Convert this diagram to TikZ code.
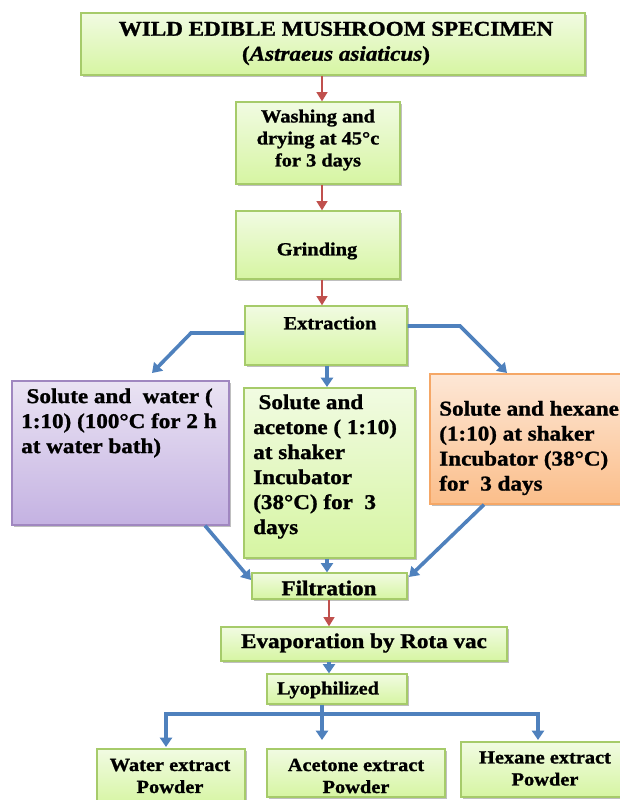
\documentclass[tikz,border=0pt]{standalone}
\usepackage{fontspec}
\setmainfont{Liberation Serif}[FakeStretch=1.1, BoldFeatures={FakeBold=1.2}, BoldItalicFeatures={FakeBold=1.2}]
\usepackage{xcolor}
\usepackage{tikz}
\usetikzlibrary{fit,shadows,arrows.meta}

\definecolor{grtop}{RGB}{241,251,226}
\definecolor{grbot}{RGB}{214,245,162}
\definecolor{grline}{RGB}{166,203,106}
\definecolor{pptop}{RGB}{234,227,243}
\definecolor{ppbot}{RGB}{196,178,226}
\definecolor{ppline}{RGB}{160,135,192}
\definecolor{ortop}{RGB}{253,231,214}
\definecolor{orbot}{RGB}{251,190,138}
\definecolor{orline}{RGB}{245,167,102}
\definecolor{redarr}{RGB}{192,80,77}
\definecolor{bluearr}{RGB}{79,129,189}

\tikzset{
  box/.style={inner sep=0pt, line width=0.9pt,
    drop shadow={shadow xshift=1.2pt, shadow yshift=-1.2pt, fill=black, opacity=0.25}},
  greenbox/.style={box, draw=grline, top color=grtop, bottom color=grbot},
  purplebox/.style={box, draw=ppline, top color=pptop, bottom color=ppbot},
  orangebox/.style={box, draw=orline, top color=ortop, bottom color=orbot},
  bigtxt/.style={inner sep=0pt, font=\fontsize{15.75pt}{18.75pt}\selectfont\bfseries},
  smalltxt/.style={inner sep=0pt, font=\fontsize{13.9pt}{16.5pt}\selectfont\bfseries},
  redline/.style={draw=redarr, line width=1.8pt, -{Triangle[length=7pt,width=8pt]}},
  blueline/.style={draw=bluearr, line width=2.7pt, -{Triangle[length=7pt,width=9pt]}},
}

\begin{document}
\begin{tikzpicture}[x=0.75pt,y=0.75pt,yscale=-1,xscale=1]
\useasboundingbox (0,0) rectangle (619,800);

%Box: specimen
\node (top) [greenbox, fit={(81,13) (585,75)}] {};
%Box: washing
\node (wash) [greenbox, fit={(236,102) (400,184)}] {};
%Box: grinding
\node (grind) [greenbox, fit={(236,211) (400,279)}] {};
%Box: extraction
\node (extr) [greenbox, fit={(245,306) (407,365)}] {};
%Box: water
\node (water) [purplebox, fit={(12,381) (229,525)}] {};
%Box: acetone
\node (acet) [greenbox, fit={(244,388) (415,558)}] {};
%Box: hexane
\node (hex) [orangebox, fit={(430,374) (630,504)}] {};
%Box: filtration
\node (filt) [greenbox, fit={(252,573) (407,599)}] {};
%Box: evaporation
\node (evap) [greenbox, fit={(221,627) (507,661)}] {};
%Box: lyophilized
\node (lyo) [greenbox, fit={(267,674) (407,704)}] {};
%Box: powders
\node (wpow) [greenbox, fit={(97,749) (245,806)}] {};
\node (apow) [greenbox, fit={(267,749) (445,797)}] {};
\node (hpow) [greenbox, fit={(461,742) (630,797)}] {};

% Text Node
\node (topT) [bigtxt, align=center] at (336,43.5) {WILD EDIBLE MUSHROOM SPECIMEN\\(\textit{Astraeus asiaticus})};
% Text Node
\node (washT) [smalltxt, align=center] at (318,140) {Washing and\\drying at 45°c\\for 3 days};
% Text Node
\node (grindT) [smalltxt] at (317,251) {Grinding};
% Text Node
\node (extrT) [smalltxt] at (330,323) {Extraction};
% Text Node
\node (waterT) [bigtxt, anchor=west, align=left] at (21,423) {\hspace*{4pt}Solute and\ \ water (\\1:10) (100°C for 2 h\\at water bath)};
% Text Node
\node (acetT) [bigtxt, anchor=west, align=left] at (253,466.5) {\hspace*{4pt}Solute and\\acetone ( 1:10)\\at shaker\\Incubator\\(38°C) for\ \ 3\\days};
% Text Node
\node (hexT) [bigtxt, anchor=west, align=left] at (439,448) {Solute and hexane\\(1:10) at shaker\\Incubator (38°C)\\for\ \ 3 days};
% Text Node
\node (filtT) [bigtxt] at (329,588) {Filtration};
% Text Node
\node (evapT) [bigtxt] at (364,643) {Evaporation by Rota vac};
% Text Node
\node (lyoT) [smalltxt] at (328,690) {Lyophilized};
% Text Node
\node (wpowT) [smalltxt, align=center] at (170,776) {Water extract\\Powder};
\node (apowT) [smalltxt, align=center] at (356,776) {Acetone extract\\Powder};
\node (hpowT) [smalltxt, align=center] at (545,768.5) {Hexane extract\\Powder};

%Red arrows
\draw [redline] (top.south -| 322,0) -- (wash.north -| 322,0);
\draw [redline] (wash.south -| 322,0) -- (grind.north -| 322,0);
\draw [redline] (grind.south -| 322,0) -- (extr.north -| 322,0);
\draw [redline] (filt.south -| 329,0) -- (evap.north -| 329,0);

%Blue arrows
\draw [blueline] (extr.west |- 0,333) -- (191,333) -- (152,373);
\draw [blueline] (extr.east |- 0,326) -- (460,326) -- (507,373);
\draw [blueline] (extr.south -| 327,0) -- (327,387);
\draw [blueline] (water.south -| 205,0) -- (251,580);
\draw [blueline] (acet.south -| 327,0) -- (filt.north -| 327,0);
\draw [blueline] (hex.south -| 484,0) -- (409,577);
\draw [blueline] (evap.south -| 329,0) -- (lyo.north -| 329,0);
\coordinate (split) at (322,714);
\draw [draw=bluearr, line width=2.7pt] (lyo.south -| split) -- (split);
\draw [blueline] (split) -| (166,747);
\draw [blueline] (split) -| (538,740);
\draw [blueline] (split) -- (322,740);

\end{tikzpicture}
\end{document}
